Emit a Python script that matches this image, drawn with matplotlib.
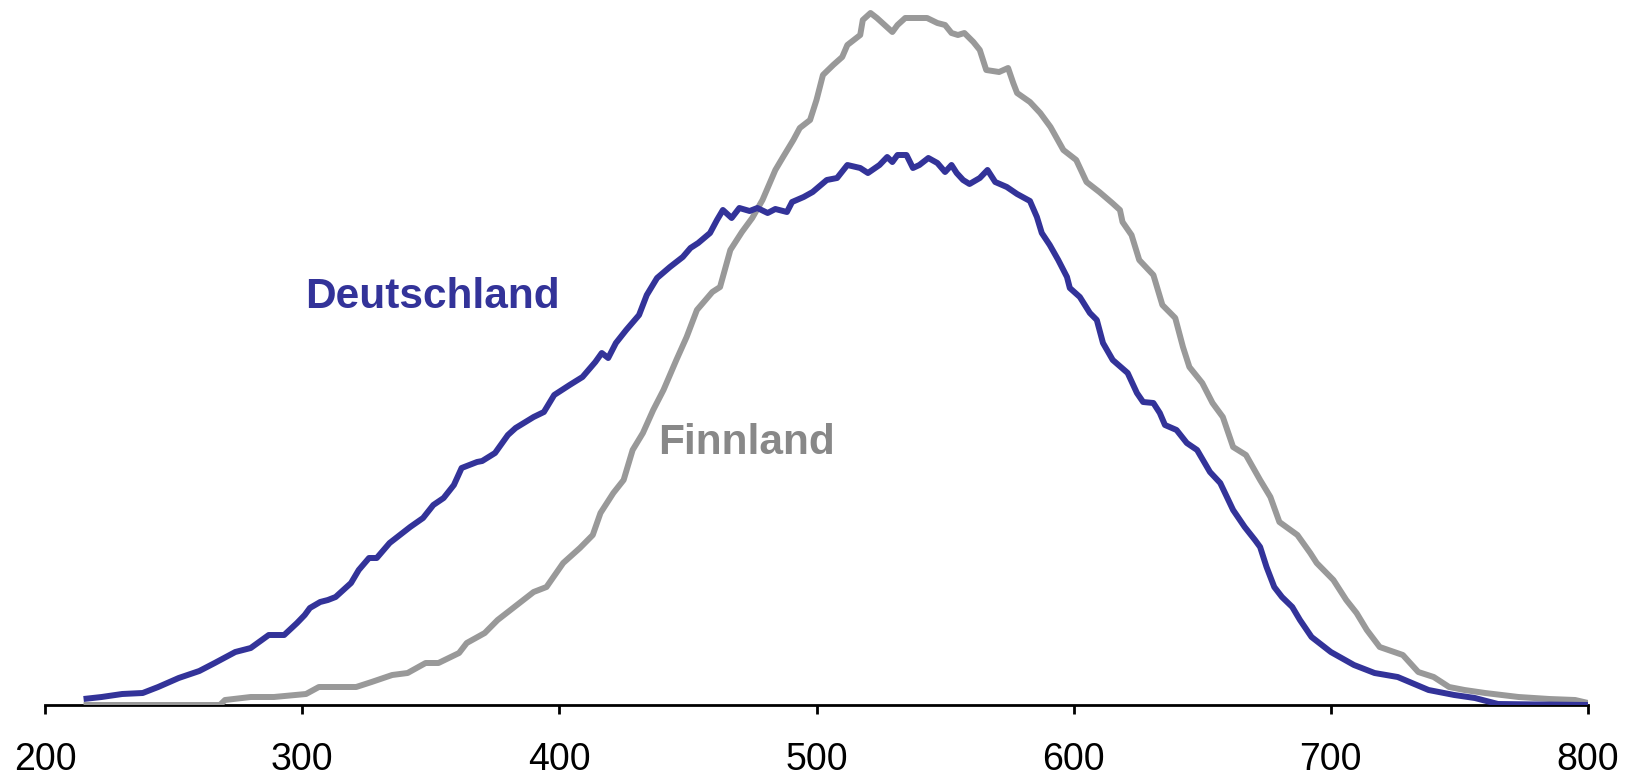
import matplotlib
matplotlib.use("Agg")
import matplotlib.pyplot as plt

plt.rcParams['font.family'] = ['Liberation Sans', 'DejaVu Sans']

# ---- data (score, relative share) ----
de_scores = [215, 222, 230, 238, 244, 252, 260, 266, 274, 280, 287, 293, 298, 301, 303, 307, 310, 313,
             319, 322, 326, 329, 334, 337, 342, 347, 351, 355, 359, 362, 368, 370, 375, 380, 383, 390,
             394, 398, 404, 409, 414, 416.5, 419, 422, 426, 431, 434, 438, 443, 448, 451, 454, 458.6,
             461.3, 463.6, 467, 470, 474, 477, 481, 484, 488.5, 490.5, 495, 498.5, 504, 508, 512, 517,
             520, 524.5, 527.5, 529.5, 531.5, 535, 537.5, 540, 543.5, 547, 550, 552.5, 554.5, 557,
             559.5, 563.5, 566.5, 569.5, 574, 578, 583, 585.7, 587.6, 590.7, 594, 597.4, 598.5, 602.4,
             606.3, 609, 611.4, 615.2, 621, 624.6, 627, 631, 633.5, 635.5, 640, 644, 648, 653, 657,
             662, 666.5, 670.5, 672.5, 675, 678, 681, 685, 688, 692.5, 700, 709, 717, 726, 731.5, 738,
             748, 756, 765, 800]
de_values = [0.06, 0.08, 0.11, 0.12, 0.18, 0.27, 0.34, 0.42, 0.53, 0.57, 0.70, 0.70, 0.82, 0.90, 0.97,
             1.03, 1.05, 1.08, 1.22, 1.35, 1.47, 1.47, 1.62, 1.68, 1.78, 1.87, 2.00, 2.07, 2.20, 2.37,
             2.43, 2.44, 2.52, 2.70, 2.77, 2.88, 2.93, 3.10, 3.20, 3.28, 3.43, 3.52, 3.47, 3.62, 3.75,
             3.90, 4.10, 4.27, 4.38, 4.48, 4.57, 4.62, 4.72, 4.85, 4.95, 4.87, 4.97, 4.94, 4.97, 4.92,
             4.96, 4.93, 5.03, 5.08, 5.13, 5.25, 5.27, 5.40, 5.37, 5.32, 5.40, 5.48, 5.43, 5.50, 5.50,
             5.37, 5.40, 5.47, 5.42, 5.33, 5.40, 5.32, 5.25, 5.21, 5.27, 5.35, 5.23, 5.18, 5.11, 5.04,
             4.88, 4.72, 4.60, 4.45, 4.28, 4.17, 4.08, 3.92, 3.85, 3.62, 3.45, 3.32, 3.12, 3.03, 3.02,
             2.92, 2.80, 2.75, 2.62, 2.55, 2.33, 2.22, 1.95, 1.78, 1.65, 1.58, 1.38, 1.18, 1.08, 0.98,
             0.85, 0.68, 0.53, 0.40, 0.32, 0.28, 0.22, 0.15, 0.10, 0.07, 0.01, 0.0]

fi_scores = [215, 268, 270, 280, 289, 301.5, 306.5, 321, 327, 335, 341, 348, 353, 361, 364, 371, 376,
             383.5, 390, 395, 401.5, 408, 413, 416, 421, 425, 428.5, 432.5, 436.5, 440.5, 445.5, 449.5,
             453.5, 459.5, 462.5, 466.5, 471, 475, 479, 484, 487, 491, 493.5, 497.5, 500, 502.5, 506.5,
             510, 512, 517, 518, 521, 523.5, 526.5, 529.5, 531.5, 534.5, 539, 543, 547, 550, 552.5, 555,
             557.5, 561, 563.5, 566, 571, 574.5, 576.5, 578, 583, 587, 591, 596, 601, 605, 610, 615,
             618, 619, 622.5, 625.5, 631, 634.5, 639.5, 642.5, 645, 650, 654, 658, 662, 667, 672.5,
             676.5, 680, 687, 692, 694.5, 701, 706, 710, 714, 719, 728, 734, 740, 746, 752, 760, 773,
             785, 795, 800]
fi_values = [0.0, 0.0, 0.05, 0.08, 0.08, 0.11, 0.18, 0.18, 0.23, 0.30, 0.32, 0.42, 0.42, 0.52, 0.62,
             0.72, 0.85, 1.00, 1.13, 1.18, 1.42, 1.57, 1.70, 1.92, 2.12, 2.25, 2.55, 2.72, 2.95, 3.15,
             3.45, 3.68, 3.95, 4.13, 4.18, 4.55, 4.73, 4.87, 5.05, 5.35, 5.48, 5.65, 5.77, 5.85, 6.05,
             6.30, 6.40, 6.48, 6.60, 6.70, 6.85, 6.92, 6.87, 6.80, 6.73, 6.80, 6.87, 6.87, 6.87, 6.82,
             6.80, 6.72, 6.70, 6.72, 6.63, 6.55, 6.35, 6.33, 6.37, 6.22, 6.12, 6.03, 5.92, 5.78, 5.55,
             5.45, 5.23, 5.13, 5.02, 4.95, 4.83, 4.70, 4.45, 4.30, 4.00, 3.87, 3.58, 3.38, 3.22, 3.02,
             2.88, 2.58, 2.50, 2.25, 2.08, 1.83, 1.70, 1.52, 1.42, 1.25, 1.05, 0.92, 0.75, 0.58, 0.50,
             0.33, 0.28, 0.18, 0.15, 0.12, 0.08, 0.06, 0.05, 0.02]

x_ticks = [200, 300, 400, 500, 600, 700, 800]
series_labels = ["Deutschland", "Finnland"]

# ---- figure ----
W, H, DPI = 1628, 776, 100
fig = plt.figure(figsize=(W / DPI, H / DPI), dpi=DPI)
ax = fig.add_axes([45 / W, (H - 705) / H, (1588 - 45) / W, 705 / H])

ax.plot(fi_scores, fi_values, color='#999999', lw=4.3, solid_joinstyle='round',
        solid_capstyle='butt', zorder=2)
ax.plot(de_scores, de_values, color='#333399', lw=4.3, solid_joinstyle='round',
        solid_capstyle='butt', zorder=3)

ax.set_xlim(200, 800)
ax.set_ylim(0, 7.05)
for s in ['left', 'right', 'top']:
    ax.spines[s].set_visible(False)
ax.spines['bottom'].set_linewidth(2.0)
ax.spines['bottom'].set_zorder(1)
ax.set_yticks([])
ax.set_xticks(x_ticks)
ax.set_xticklabels([str(t) for t in x_ticks], fontsize=27)
ax.tick_params(axis='x', direction='out', length=6.5, width=2.0, pad=20, colors='black')
ax.set_facecolor('none')

ax.text(305 / W, 1 - 308 / H, series_labels[0], transform=fig.transFigure, color='#333399',
        fontsize=30.5, fontweight='bold', ha='left', va='baseline')
ax.text(658 / W, 1 - 454 / H, series_labels[1], transform=fig.transFigure, color='#888888',
        fontsize=30.5, fontweight='bold', ha='left', va='baseline')

fig.savefig("out.png", dpi=DPI)
